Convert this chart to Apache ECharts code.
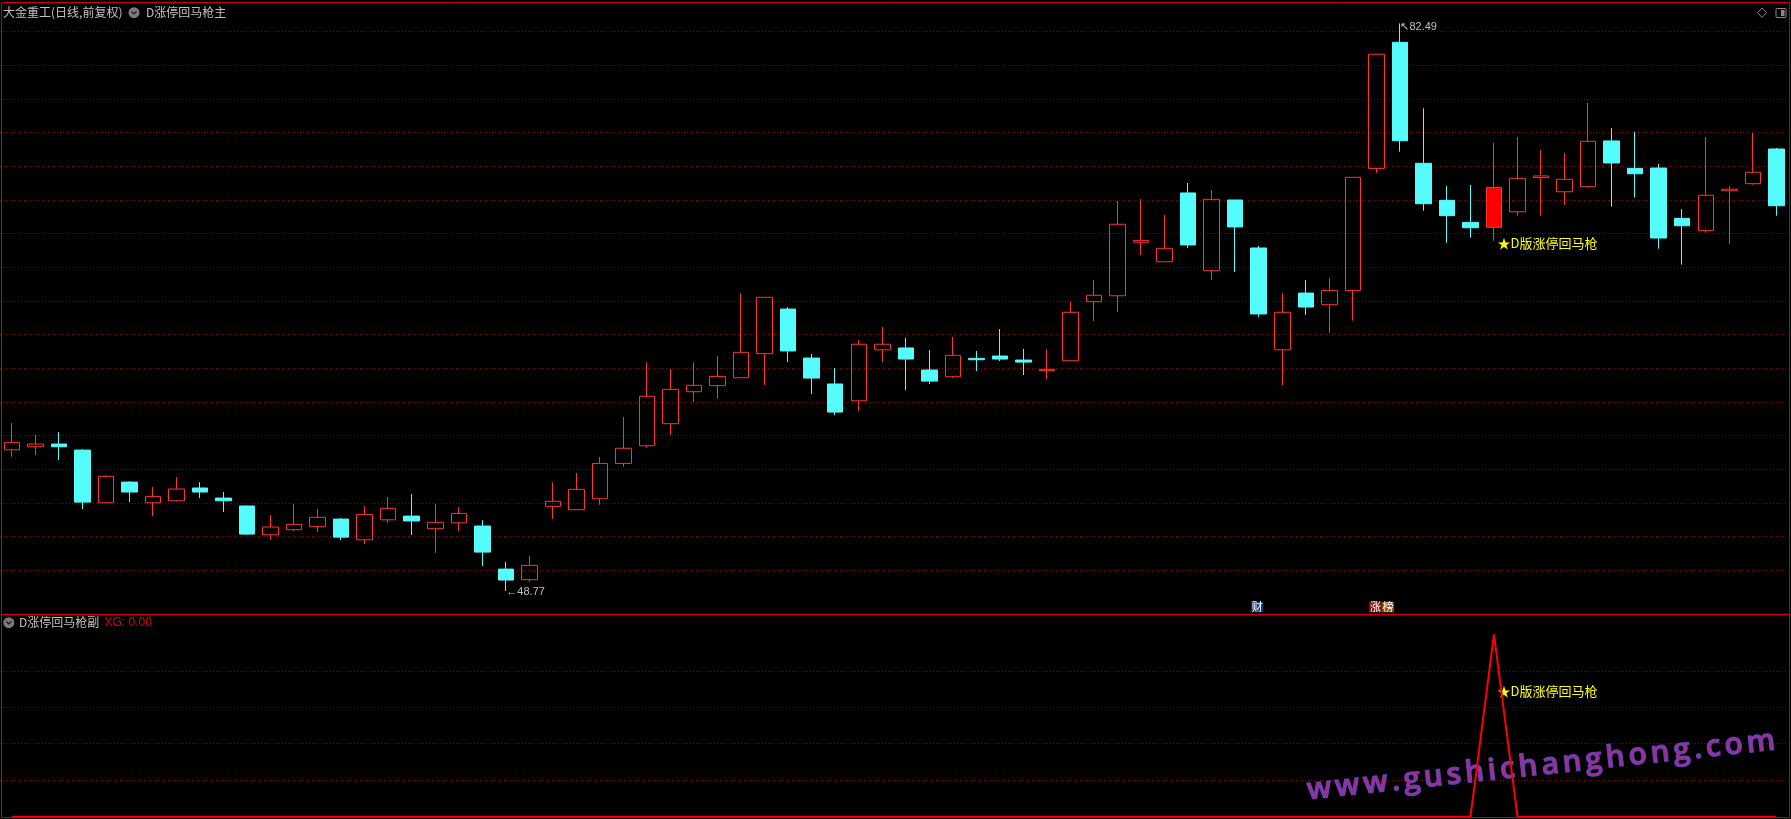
<!DOCTYPE html>
<html>
<head>
<meta charset="utf-8">
<title>大金重工 D涨停回马枪</title>
<script src="https://cdn.jsdelivr.net/npm/echarts@6.0.0/dist/echarts.min.js"></script>
<style>
  html, body { margin: 0; padding: 0; background: #000; }
  #chart { width: 1791px; height: 819px; }
</style>
</head>
<body>
<div id="chart"></div>
<script>
// daily bars (前复权)
const openPx = [
  57.16, 57.34, 57.50, 57.14, 54.01, 55.24, 54.01, 54.13, 54.89, 54.29,
  53.82, 52.11, 52.41, 52.59, 53.04, 51.81, 53.00, 53.22, 52.47, 52.82,
  52.63, 50.07, 49.44, 53.80, 53.60, 54.25, 56.35, 57.40, 58.71, 60.61,
  60.97, 61.44, 62.87, 65.52, 62.61, 61.07, 60.07, 63.10, 63.21, 61.90,
  61.50, 62.59, 62.73, 62.49, 61.86, 62.45, 65.96, 66.31, 69.49, 68.33,
  72.42, 67.80, 72.00, 69.15, 63.10, 66.47, 65.78, 66.63, 73.88, 81.37,
  74.18, 71.98, 70.67, 70.38, 71.30, 73.33, 72.49, 72.79, 75.51, 73.88,
  73.90, 70.91, 70.18, 72.55, 72.97, 75.03
];
const closePx = [
  57.60, 57.50, 57.34, 54.05, 55.58, 54.65, 54.39, 54.83, 54.65, 54.13,
  52.15, 52.57, 52.73, 53.15, 51.97, 53.32, 53.68, 52.93, 52.85, 53.38,
  51.08, 49.42, 50.29, 54.10, 54.81, 56.35, 57.25, 60.34, 60.75, 60.99,
  61.52, 62.95, 66.22, 63.03, 61.42, 59.40, 63.43, 63.43, 62.55, 61.24,
  62.77, 62.51, 62.55, 62.37, 61.94, 65.33, 66.34, 70.56, 69.60, 69.13,
  69.33, 72.04, 70.40, 65.23, 65.33, 65.64, 66.63, 73.35, 80.66, 75.52,
  71.78, 71.07, 70.35, 72.75, 73.29, 73.43, 73.23, 75.49, 74.20, 73.56,
  69.74, 70.47, 72.28, 72.64, 73.65, 71.66
];
const lowPx = [
  56.75, 56.85, 56.55, 53.64, 54.01, 54.05, 53.22, 54.07, 54.29, 53.46,
  52.09, 51.80, 52.33, 52.27, 51.80, 51.56, 52.81, 52.09, 51.02, 52.33,
  50.25, 48.77, 49.30, 53.06, 53.60, 53.89, 56.15, 57.28, 58.05, 60.01,
  60.19, 61.44, 61.01, 62.37, 60.47, 59.22, 59.48, 62.37, 60.71, 61.07,
  61.42, 61.84, 62.43, 61.60, 61.36, 62.45, 64.81, 65.34, 68.73, 68.33,
  69.15, 67.25, 67.72, 65.05, 61.01, 65.17, 64.10, 64.83, 73.62, 74.87,
  71.36, 69.46, 69.76, 69.58, 71.07, 71.07, 71.72, 72.73, 71.60, 72.14,
  69.11, 68.16, 70.06, 69.40, 72.91, 71.07
];
const highPx = [
  58.75, 58.04, 58.21, 57.20, 55.66, 55.30, 54.95, 55.54, 55.24, 54.65,
  53.85, 53.28, 53.94, 53.64, 53.10, 53.82, 54.35, 54.53, 53.95, 53.76,
  52.98, 50.49, 50.85, 55.24, 55.78, 56.73, 59.11, 62.37, 61.96, 62.37,
  62.73, 66.47, 66.22, 65.64, 62.85, 62.02, 63.68, 64.45, 63.80, 63.09,
  63.86, 63.03, 64.33, 63.15, 63.15, 65.94, 67.25, 71.94, 72.06, 71.11,
  73.01, 72.59, 72.00, 69.27, 66.47, 67.25, 67.36, 73.35, 80.66, 82.49,
  77.45, 72.83, 72.89, 75.39, 75.74, 74.97, 74.79, 77.76, 76.28, 76.04,
  74.14, 71.46, 75.74, 72.83, 75.98, 75.09
];
// XG output of the sub indicator (1 = signal day)
const xgSignal = [
  0, 0, 0, 0, 0, 0, 0, 0, 0, 0,
  0, 0, 0, 0, 0, 0, 0, 0, 0, 0,
  0, 0, 0, 0, 0, 0, 0, 0, 0, 0,
  0, 0, 0, 0, 0, 0, 0, 0, 0, 0,
  0, 0, 0, 0, 0, 0, 0, 0, 0, 0,
  0, 0, 0, 0, 0, 0, 0, 0, 0, 0,
  0, 0, 0, 1, 0, 0, 0, 0, 0, 0,
  0, 0, 0, 0, 0, 0
];
const days = openPx.map((v, i) => 'D' + (i + 1));
// dotted price lines of the main panel
const priceLevels = [50, 52, 54, 56, 58, 60, 62, 64, 66, 68, 70, 72, 74, 76, 78, 80, 82];
const xgTicks = [0, 1, 0.2];
const signalText = '★D版涨停回马枪';
const signalTextLevel = 0.7;
const watermark = 'www.gushichanghong.com';

const hiIdx = highPx.indexOf(Math.max.apply(null, highPx));
const loIdx = lowPx.indexOf(Math.min.apply(null, lowPx));
const sigIdx = xgSignal.indexOf(1);

const candles = days.map((d, i) => {
  let item = { value: [openPx[i], closePx[i], lowPx[i], highPx[i]] };
  if (xgSignal[i]) {
    item.itemStyle = { color: '#FF0000', borderColor: '#FF3232' };
  }
  return item;
});

const RED = '#FF3232';
const CYAN = '#54FCFC';
const BORDER = '#CC0000';
const GRIDRED = '#8C0000';
const dotted = { show: true, lineStyle: { color: GRIDRED, type: [1, 2], width: 1 } };
const hidden = { show: false };
const cjk = '"Noto Sans CJK SC", sans-serif';

// watermark laid out letter by letter (it is letter-spaced in the picture)
function watermarkElements () {
  const font = '600 30px "Open Sans"';
  const ctx = document.createElement('canvas').getContext('2d');
  ctx.font = font;
  const chars = watermark.split('');
  const widths = chars.map(c => ctx.measureText(c).width);
  const total = widths.reduce((a, b) => a + b, 0);
  const angle = 0.1065;
  const span = 468 / Math.cos(angle);
  const gap = (span - total) / (chars.length - 1);
  let d = 0;
  return chars.map((c, i) => {
    const el = {
      type: 'text', z: 1, silent: true, rotation: angle,
      x: 1307 + d * Math.cos(angle),
      y: 791 - d * Math.sin(angle),
      style: { text: c, font: font, fill: '#93339A', stroke: '#4A4AC4', lineWidth: 1.2, verticalAlign: 'middle' }
    };
    d += widths[i] + gap;
    return el;
  });
}

let myChart = echarts.init(document.getElementById('chart'));
let option = {
  backgroundColor: '#000000',
  animation: false,
  grid: [
    { left: -1.47, right: 2.9, top: 8, height: 606 },
    { left: -1.47, right: 2.9, top: 634.3, height: 182.4 }
  ],
  xAxis: [
    { type: 'category', gridIndex: 0, data: days, boundaryGap: true, axisLine: hidden, axisTick: hidden, axisLabel: hidden, splitLine: hidden },
    { type: 'category', gridIndex: 1, data: days, boundaryGap: true, axisLine: hidden, axisTick: hidden, axisLabel: hidden, splitLine: hidden }
  ],
  yAxis: [
    { type: 'value', gridIndex: 0, min: 47.403, max: 83.408, axisLine: hidden, axisTick: hidden, axisLabel: hidden, splitLine: hidden },
    {
      type: 'value', gridIndex: 1, min: xgTicks[0], max: xgTicks[1], interval: xgTicks[2], axisLine: hidden, axisTick: hidden, axisLabel: hidden,
      splitLine: Object.assign({ showMinLine: false, showMaxLine: false }, dotted)
    }
  ],
  series: [
    {
      // carries only the dotted price lines, drawn under the candles
      name: 'grid',
      type: 'line',
      xAxisIndex: 0,
      yAxisIndex: 0,
      data: days.map(() => null),
      showSymbol: false,
      silent: true,
      z: 1,
      markLine: {
        silent: true,
        z: 1,
        symbol: ['none', 'none'],
        label: hidden,
        lineStyle: { color: GRIDRED, type: [1, 2], width: 1 },
        data: priceLevels.map(v => ({ yAxis: v }))
      }
    },
    {
      name: 'K',
      type: 'candlestick',
      xAxisIndex: 0,
      yAxisIndex: 0,
      barWidth: 16,
      silent: true,
      z: 3,
      data: candles,
      itemStyle: { color: 'transparent', color0: CYAN, borderColor: RED, borderColor0: CYAN, borderWidth: 1 },
      markPoint: {
        symbol: 'circle',
        symbolSize: 1,
        silent: true,
        itemStyle: { color: 'transparent' },
        data: [
          {
            coord: [days[hiIdx], highPx[hiIdx]],
            label: { show: true, position: 'right', distance: 0, offset: [0, 4], formatter: '↖' + highPx[hiIdx].toFixed(2), color: '#C0C0C0', fontSize: 11, fontFamily: 'Liberation Sans' }
          },
          {
            coord: [days[loIdx], lowPx[loIdx]],
            label: { show: true, position: 'right', distance: 0, offset: [0, 1], formatter: '←' + lowPx[loIdx].toFixed(2), color: '#C0C0C0', fontSize: 11, fontFamily: 'Liberation Sans' }
          },
          {
            coord: [days[sigIdx], lowPx[sigIdx]],
            label: { show: true, position: 'right', distance: 3, offset: [0, 2], formatter: signalText, color: '#FFFF00', fontSize: 13, fontFamily: cjk }
          }
        ]
      }
    },
    {
      name: 'XG',
      type: 'line',
      xAxisIndex: 1,
      yAxisIndex: 1,
      data: xgSignal,
      showSymbol: false,
      silent: true,
      z: 5,
      lineStyle: { color: '#FF0000', width: 2 },
      markPoint: {
        symbol: 'circle',
        symbolSize: 1,
        silent: true,
        itemStyle: { color: 'transparent' },
        data: [
          {
            coord: [days[sigIdx], signalTextLevel],
            label: { show: true, position: 'right', distance: 3, offset: [0, 2], formatter: signalText, color: '#FFFF00', fontSize: 13, fontFamily: cjk }
          }
        ]
      }
    }
  ],
  graphic: watermarkElements().concat([
    // panel frame
    { type: 'rect', z: 10, silent: true, shape: { x: 1.5, y: 2.5, width: 1788, height: 815 }, style: { fill: null, stroke: BORDER, lineWidth: 1 } },
    { type: 'line', z: 10, silent: true, shape: { x1: 1.5, y1: 614.5, x2: 1789.5, y2: 614.5 }, style: { stroke: BORDER, lineWidth: 1.5 } },
    // main title
    { type: 'text', z: 10, x: 3, y: 12.7, style: { text: '大金重工(日线,前复权)', fill: '#C0C0C0', font: '12px ' + cjk, verticalAlign: 'middle' } },
    { type: 'circle', z: 10, shape: { cx: 134, cy: 12.7, r: 5.5 }, style: { fill: '#7A7A7A' } },
    { type: 'polyline', z: 11, shape: { points: [[131.5, 11.5], [134, 14], [136.5, 11.5]] }, style: { stroke: '#1A1A1A', lineWidth: 1.2, fill: null } },
    { type: 'text', z: 10, x: 146, y: 12.7, style: { text: 'D涨停回马枪主', fill: '#C0C0C0', font: '12px ' + cjk, verticalAlign: 'middle' } },
    // top-right icons
    { type: 'polygon', z: 10, shape: { points: [[1762, 8], [1766.5, 12.7], [1762, 17.4], [1757.5, 12.7]] }, style: { fill: null, stroke: '#8A8A8A', lineWidth: 1 } },
    { type: 'rect', z: 10, shape: { x: 1776, y: 8.5, width: 10, height: 9, r: 1 }, style: { fill: null, stroke: '#8A8A8A', lineWidth: 1 } },
    { type: 'rect', z: 10, shape: { x: 1781, y: 10, width: 3.5, height: 6 }, style: { fill: '#8A8A8A' } },
    // sub title
    { type: 'circle', z: 10, shape: { cx: 8.8, cy: 622.7, r: 5.5 }, style: { fill: '#7A7A7A' } },
    { type: 'polyline', z: 11, shape: { points: [[6.3, 621.5], [8.8, 624], [11.3, 621.5]] }, style: { stroke: '#1A1A1A', lineWidth: 1.2, fill: null } },
    { type: 'text', z: 10, x: 19, y: 622.7, style: { text: 'D涨停回马枪副', fill: '#C0C0C0', font: '12px ' + cjk, verticalAlign: 'middle' } },
    { type: 'text', z: 10, x: 104.5, y: 622.7, style: { text: 'XG: 0.00', fill: '#E00000', font: '12px "Liberation Sans"', verticalAlign: 'middle' } },
    // event badges above the separator
    { type: 'rect', z: 10, shape: { x: 1251.3, y: 601.7, width: 12, height: 10.6 }, style: { fill: '#1C416E' } },
    { type: 'text', z: 11, x: 1257.3, y: 607, style: { text: '财', fill: '#FFFFFF', font: '11px ' + cjk, align: 'center', verticalAlign: 'middle' } },
    { type: 'rect', z: 10, shape: { x: 1369.2, y: 601.7, width: 12.5, height: 10.6 }, style: { fill: '#8A1414' } },
    { type: 'rect', z: 10, shape: { x: 1381.7, y: 601.7, width: 12.4, height: 10.6 }, style: { fill: '#8A4A0C' } },
    { type: 'text', z: 11, x: 1375.4, y: 607, style: { text: '涨', fill: '#FFFFFF', font: '11px ' + cjk, align: 'center', verticalAlign: 'middle' } },
    { type: 'text', z: 11, x: 1387.9, y: 607, style: { text: '榜', fill: '#FFFFFF', font: '11px ' + cjk, align: 'center', verticalAlign: 'middle' } }
  ])
};
myChart.setOption(option);
</script>
</body>
</html>
